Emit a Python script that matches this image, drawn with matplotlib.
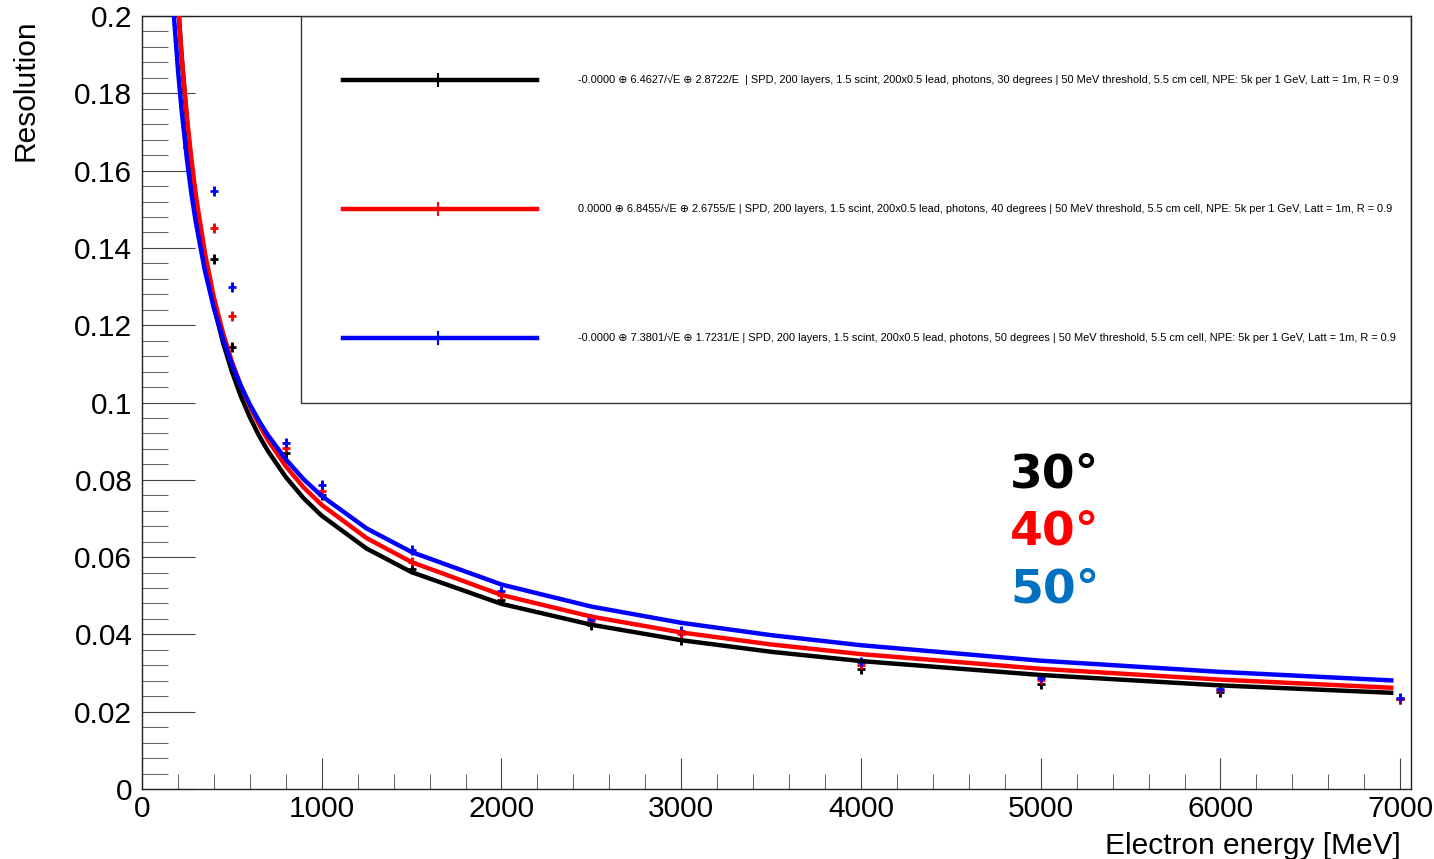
import numpy as np
import matplotlib.pyplot as plt
from matplotlib.patches import Rectangle
from matplotlib.lines import Line2D

plt.rcParams['font.family'] = ['Liberation Sans', 'DejaVu Sans']

# Energías de la curva de ajuste (MeV) y resolución
curve_e = [170, 180, 200, 220, 250, 275, 300, 350, 400, 450, 500, 550, 600, 650, 700,
           800, 900, 1000, 1250, 1500, 2000, 2500, 3000, 3500, 4000, 5000, 6000, 6950]
curve_30 = [0.2305, 0.2206, 0.2037, 0.1898, 0.1729, 0.1616, 0.1519, 0.1369, 0.1249,
            0.1156, 0.1080, 0.1016, 0.0962, 0.0915, 0.0875, 0.0807, 0.0752, 0.0707,
            0.0622, 0.0561, 0.0479, 0.0425, 0.0385, 0.0355, 0.0331, 0.0295, 0.0268,
            0.0249]
curve_40 = [0.2288, 0.2194, 0.2033, 0.1900, 0.1738, 0.1628, 0.1535, 0.1387, 0.1272,
            0.1181, 0.1106, 0.1043, 0.0990, 0.0944, 0.0903, 0.0835, 0.0780, 0.0735,
            0.0649, 0.0587, 0.0502, 0.0446, 0.0405, 0.0374, 0.0349, 0.0311, 0.0283,
            0.0262]
curve_50 = [0.2057, 0.1985, 0.1862, 0.1758, 0.1629, 0.1540, 0.1465, 0.1341, 0.1244,
            0.1165, 0.1099, 0.1043, 0.0995, 0.0953, 0.0916, 0.0853, 0.0801, 0.0758,
            0.0674, 0.0613, 0.0529, 0.0472, 0.0430, 0.0398, 0.0372, 0.0332, 0.0303,
            0.0281]

# Puntos medidos (MeV) y resolución
data_e = [250, 400, 500, 800, 1000, 1500, 2000, 2500, 3000, 4000, 5000, 6000, 7000]
data_30 = [0.166, 0.1371, 0.1144, 0.0870, 0.0760, 0.0570, 0.0490, 0.0425, 0.0385,
           0.0310, 0.0272, 0.0250, 0.0232]
data_40 = [0.166, 0.1451, 0.1224, 0.0882, 0.0771, 0.0587, 0.0502, 0.0435, 0.0400,
           0.0320, 0.0282, 0.0255, 0.0234]
data_50 = [0.166, 0.1547, 0.1299, 0.0895, 0.0787, 0.0618, 0.0512, 0.0440, 0.0410,
           0.0328, 0.0288, 0.0260, 0.0235]
data_err = 0.0013

labels = [
    "-0.0000 \u2295 6.4627/\u221aE \u2295 2.8722/E  | SPD, 200 layers, 1.5 scint, 200x0.5 lead, photons, 30 degrees | 50 MeV threshold, 5.5 cm cell, NPE: 5k per 1 GeV, Latt = 1m, R = 0.9",
    "0.0000 \u2295 6.8455/\u221aE \u2295 2.6755/E | SPD, 200 layers, 1.5 scint, 200x0.5 lead, photons, 40 degrees | 50 MeV threshold, 5.5 cm cell, NPE: 5k per 1 GeV, Latt = 1m, R = 0.9",
    "-0.0000 \u2295 7.3801/\u221aE \u2295 1.7231/E | SPD, 200 layers, 1.5 scint, 200x0.5 lead, photons, 50 degrees | 50 MeV threshold, 5.5 cm cell, NPE: 5k per 1 GeV, Latt = 1m, R = 0.9",
]
colors = ['black', '#ff0000', '#0000ff']
angle_text = ['30\u00b0', '40\u00b0', '50\u00b0']
angle_colors = ['black', '#ff0000', '#0070c0']

fig = plt.figure(figsize=(14.34, 8.59), dpi=100)
ax = fig.add_axes([142/1434, 70/859, 1269/1434, 773/859])

series = [(curve_30, data_30), (curve_40, data_40), (curve_50, data_50)]
for (cv, dv), c in zip(series, colors):
    ax.errorbar(data_e, dv, yerr=data_err, fmt='+', color=c, ms=6, mew=2,
                elinewidth=2, capsize=0, zorder=3)
for (cv, dv), c in zip(series, colors):
    ax.plot(curve_e, cv, color=c, lw=3.2, zorder=4)

ax.set_xlim(0, 7060)
ax.set_ylim(0, 0.2)

# Ejes estilo ROOT
ax.set_xticks(np.arange(0, 7001, 1000))
ax.set_xticks(np.arange(0, 7001, 200), minor=True)
ax.set_yticks(np.arange(0, 0.2001, 0.02))
ax.set_yticks(np.arange(0, 0.2001, 0.004), minor=True)
ax.set_yticklabels(['0', '0.02', '0.04', '0.06', '0.08', '0.1', '0.12', '0.14',
                    '0.16', '0.18', '0.2'])
ax.tick_params(axis='both', which='both', direction='in', top=False, right=False,
               labelsize=21.5, color='#444444')
ax.tick_params(axis='x', which='major', length=22, pad=4)
ax.tick_params(axis='x', which='minor', length=11)
ax.tick_params(axis='y', which='major', length=38, pad=7)
ax.tick_params(axis='y', which='minor', length=19)
for sp in ax.spines.values():
    sp.set_linewidth(1.0)
    sp.set_color('#222222')

ax.set_xlabel('Electron energy [MeV]', fontsize=21.5, loc='right', labelpad=0)
ax.xaxis.set_label_coords(0.992, -0.055)
ax.set_ylabel('Resolution', fontsize=21.5, loc='top')
ax.yaxis.set_label_coords(-0.081, 0.995)

# Leyenda
ax.add_patch(Rectangle((0.1253, 0.4994), 0.8747, 0.5006, transform=ax.transAxes,
                       fill=False, edgecolor='#333333', lw=1.0, zorder=5))
for i, (lab, c) in enumerate(zip(labels, colors)):
    yy = [0.9172, 0.7503, 0.5834][i]
    ax.add_line(Line2D([0.1584, 0.3113], [yy, yy], transform=ax.transAxes,
                       color=c, lw=3.2, zorder=6))
    ax.add_line(Line2D([0.2333, 0.2333], [yy - 0.008, yy + 0.008], transform=ax.transAxes,
                       color=c, lw=1.5, zorder=6))
    ax.text(0.3436, yy, lab, transform=ax.transAxes, fontsize=7.9, va='center',
            ha='left', color='black', zorder=6)

for i, (t, c) in enumerate(zip(angle_text, angle_colors)):
    ax.text(0.684, [0.406, 0.332, 0.257][i], t, transform=ax.transAxes,
            fontsize=34, fontweight='bold', family='DejaVu Sans', color=c,
            va='center', ha='left')

fig.savefig('out.png', dpi=100)
